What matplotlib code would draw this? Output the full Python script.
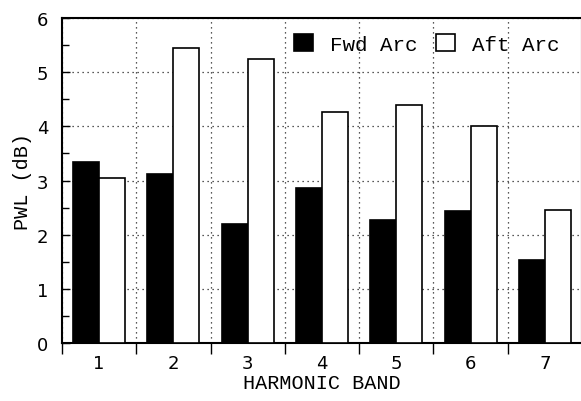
import numpy as np
import matplotlib.pyplot as plt
from matplotlib.ticker import MultipleLocator

bands = [1, 2, 3, 4, 5, 6, 7]
fwd_arc = [3.35, 3.12, 2.20, 2.86, 2.27, 2.44, 1.53]
aft_arc = [3.05, 5.44, 5.24, 4.26, 4.39, 4.00, 2.45]

mono = "Liberation Mono"
width = 0.35

fig = plt.figure(figsize=(5.81, 4.02), dpi=100)
ax = fig.add_axes([0.1067, 0.1443, 0.8950, 0.8084])

x = np.array(bands, dtype=float)
ax.bar(x - width / 2, fwd_arc, width, color="black", edgecolor="black",
       linewidth=1.2, label="Fwd Arc", zorder=3)
ax.bar(x + width / 2, aft_arc, width, color="white", edgecolor="black",
       linewidth=1.2, label="Aft Arc", zorder=3)

ax.set_xlim(0.5, 7.5)
ax.set_ylim(0, 6)

# band labels sit at group centres, tick marks at the group boundaries
ax.set_xticks(bands)
ax.set_xticks(np.arange(0.5, 8.0, 1.0), minor=True)
ax.tick_params(axis="x", which="major", length=0, pad=8, labelsize=13)
ax.tick_params(axis="x", which="minor", direction="out", length=8, width=1)

ax.yaxis.set_major_locator(MultipleLocator(1))
ax.yaxis.set_minor_locator(MultipleLocator(0.5))
ax.tick_params(axis="y", which="major", direction="in", length=6, width=1,
               pad=10, labelsize=13)
ax.tick_params(axis="y", which="minor", direction="in", length=5, width=1)

grid_style = dict(color="#222222", linestyle=(0, (1, 3)), linewidth=0.9)
ax.grid(True, axis="y", which="major", **grid_style)
ax.grid(True, axis="x", which="minor", **grid_style)
ax.grid(False, axis="x", which="major")
ax.set_axisbelow(True)

for side in ("left", "top", "bottom", "right"):
    ax.spines[side].set_linewidth(1.5)

ax.set_xlabel("HARMONIC BAND", family=mono, fontsize=14.5, labelpad=1)
ax.set_ylabel("PWL (dB)", family=mono, fontsize=14.5, labelpad=3)

ax.legend(loc="upper right", ncol=2, frameon=False,
          prop={"family": mono, "size": 15},
          handlelength=0.9, handleheight=0.9, handletextpad=0.8,
          columnspacing=0.9, borderaxespad=0.7, bbox_to_anchor=(1.0, 1.022))

fig.savefig("out.png", dpi=100)
